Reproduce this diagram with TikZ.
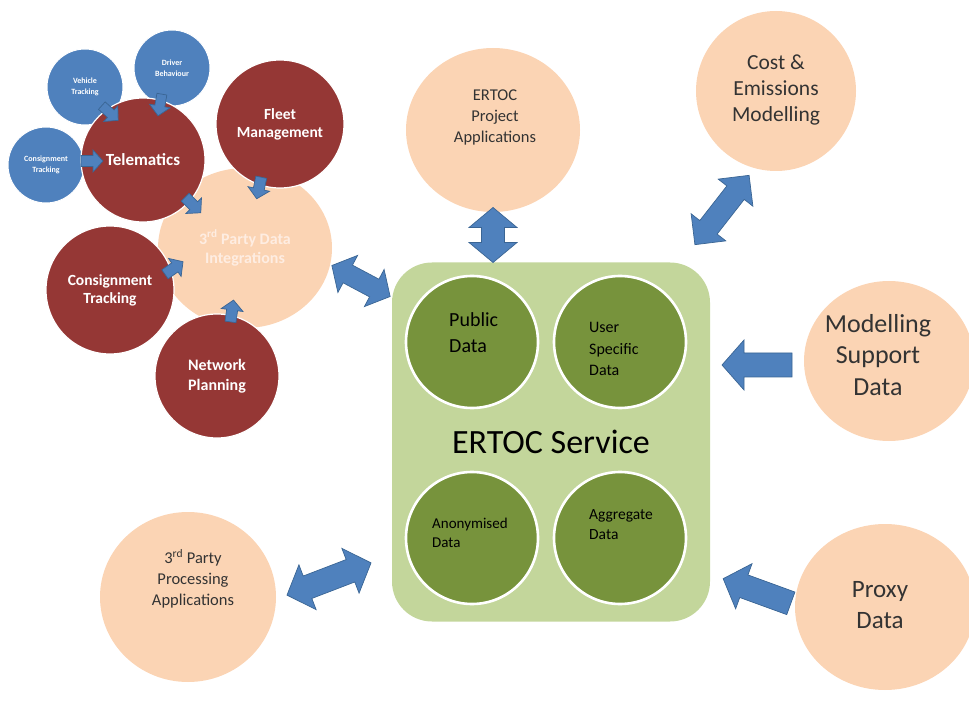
\documentclass[tikz,border=0pt]{standalone}
\usepackage{fontspec}
\setmainfont{Carlito}
\usetikzlibrary{shapes.geometric}

\definecolor{peach}{HTML}{FBD4B4}
\definecolor{brick}{HTML}{953735}
\definecolor{skyblue}{HTML}{4F81BD}
\definecolor{arrowedge}{HTML}{3A6594}
\definecolor{lightgreen}{HTML}{C3D69B}
\definecolor{olive}{HTML}{77933C}
\definecolor{darktext}{HTML}{333333}
\definecolor{palepeach}{HTML}{FEEDE2}

\tikzset{
  peachdisc/.style={ellipse, fill=peach, inner sep=0pt, text=darktext, align=center},
  reddisc/.style={circle, fill=brick, draw=white, line width=1.2pt, inner sep=0pt,
                  minimum size=#1, text=white, align=center},
  bluedisc/.style={circle, fill=skyblue, draw=white, line width=1pt, inner sep=0pt,
                   minimum size=76pt, text=white, align=center,
                   font=\fontsize{8}{10.5}\selectfont\bfseries},
  greendisc/.style={circle, fill=olive, draw=white, line width=2.6pt, inner sep=0pt,
                    minimum size=132pt},
  greentext/.style={anchor=west, align=left, text=black, inner sep=0pt},
  disctext/.style={text=darktext, align=center, inner sep=0pt},
  arrowpaint/.style={fill=skyblue, draw=arrowedge, line width=0.7pt, line join=miter},
  % single block arrow along local x: length, shaft half-width, head half-width, head length
  pics/onearrow/.style n args={4}{code={
    \path[arrowpaint] ({-#1/2},{-#2}) -- ({#1/2-#4},{-#2}) -- ({#1/2-#4},{-#3})
      -- ({#1/2},0) -- ({#1/2-#4},{#3}) -- ({#1/2-#4},{#2}) -- ({-#1/2},{#2}) -- cycle;
  }},
  % double-headed block arrow along local x
  pics/twoarrow/.style n args={4}{code={
    \path[arrowpaint] ({-#1/2},0) -- ({-#1/2+#4},{-#3}) -- ({-#1/2+#4},{-#2})
      -- ({#1/2-#4},{-#2}) -- ({#1/2-#4},{-#3}) -- ({#1/2},0) -- ({#1/2-#4},{#3})
      -- ({#1/2-#4},{#2}) -- ({-#1/2+#4},{#2}) -- ({-#1/2+#4},{#3}) -- cycle;
  }},
}

\begin{document}
\begin{tikzpicture}[x=1pt,y=-1pt]
\useasboundingbox (0,0) rectangle (969,708);
\clip (0,0) rectangle (969,708);

% ---- third-party data cluster ----
\node[peachdisc, minimum width=174pt, minimum height=160pt,
      text=palepeach, font=\fontsize{16}{19}\selectfont\bfseries] (integ) at (245,248)
      {3\textsuperscript{rd} Party Data\\Integrations};

\node[bluedisc] (vehicle) at (85,87) {Vehicle\\Tracking};
\node[bluedisc] (driver) at (172,68) {Driver\\Behaviour};
\node[bluedisc] (consblue) at (46,165) {Consignment\\Tracking};

\node[reddisc=124pt, font=\fontsize{17}{20}\selectfont\bfseries] (telem) at (143,160) {Telematics};
\node[reddisc=128pt, font=\fontsize{15.5}{18}\selectfont\bfseries] (fleet) at (280,124) {Fleet\\Management};
\node[reddisc=128pt, font=\fontsize{15.5}{18}\selectfont\bfseries] (consred) at (110,290) {Consignment\\Tracking};
\node[reddisc=124pt, font=\fontsize{16}{20}\selectfont\bfseries] (network) at (217,376) {Network\\Planning};

% small feed arrows into Telematics and the integration hub
\pic[rotate=-42] at (110,113) {onearrow={22}{5}{10.5}{10}};
\pic[rotate=-100] at (160,105) {onearrow={22}{5}{10.5}{10}};
\pic[rotate=0] at (92,161) {onearrow={22}{5.5}{11}{10}};
\pic[rotate=-45] at (193,205) {onearrow={22}{5.5}{11}{10}};
\pic[rotate=-102] at (259,188) {onearrow={22}{5.5}{11}{10}};
\pic[rotate=35] at (174,268) {onearrow={22}{5.5}{11}{10}};
\pic[rotate=82] at (232,311) {onearrow={22}{5.5}{11}{10}};

% ---- ERTOC service ----
\node[rectangle, rounded corners=40pt, fill=lightgreen, minimum width=318pt,
      minimum height=359pt, inner sep=0pt,
      font=\fontsize{34}{40}\selectfont] (service) at (551,442) {ERTOC Service};

\node[greendisc] (public) at (472,342) {};
\node[greendisc] (userdata) at (620,342) {};
\node[greendisc] (anon) at (472,538) {};
\node[greendisc] (aggr) at (620,538) {};

\node[greentext, font=\fontsize{20}{26}\selectfont] (publictxt) at (449,333) {Public\\Data};
\node[greentext, font=\fontsize{16}{21.5}\selectfont] (usertxt) at (589,349) {User\\Specific\\Data};
\node[greentext, font=\fontsize{15}{19.5}\selectfont] (anontxt) at (432,533) {Anonymised\\Data};
\node[greentext, font=\fontsize{15.5}{20}\selectfont] (aggrtxt) at (589,525) {Aggregate\\Data};

% ---- surrounding applications and data sources ----
\node[peachdisc, minimum width=174pt, minimum height=164pt] (project) at (493,130) {};
\node[disctext, font=\fontsize{16.5}{21}\selectfont] (projecttxt) at (495,117)
      {ERTOC\\Project\\Applications};
\node[peachdisc, minimum width=160pt, minimum height=160pt] (cost) at (776,91) {};
\node[disctext, font=\fontsize{21.5}{26}\selectfont] (costtxt) at (776,90)
      {Cost \&\\Emissions\\Modelling};
\node[peachdisc, minimum width=170pt, minimum height=160pt] (modsup) at (889,361) {};
\node[disctext, font=\fontsize{26}{31.5}\selectfont] (modsuptxt) at (878,355)
      {Modelling\\Support\\Data};
\node[peachdisc, minimum width=180pt, minimum height=166pt] (proxy) at (885,607) {};
\node[disctext, font=\fontsize{25}{31}\selectfont] (proxytxt) at (880,605) {Proxy\\Data};
\node[peachdisc, minimum width=176pt, minimum height=170pt] (thirdproc) at (188,597) {};
\node[disctext, font=\fontsize{16.5}{21}\selectfont] (thirdproctxt) at (193,579)
      {3\textsuperscript{rd} Party\\Processing\\Applications};

% ---- block arrows linking the service ----
\pic[rotate=-28] at (361,281) {twoarrow={66}{10}{21}{18}};
\pic[rotate=90] at (493,235) {twoarrow={55}{11.5}{24}{20}};
\pic[rotate=52] at (722,210) {twoarrow={88}{11}{22}{22}};
\pic[rotate=180] at (757,365) {onearrow={70}{12}{25}{22}};
\pic[rotate=160] at (757,591) {onearrow={72}{12}{24}{22}};
\pic[rotate=21] at (329,579) {twoarrow={90}{12}{24}{22}};
\end{tikzpicture}
\end{document}
